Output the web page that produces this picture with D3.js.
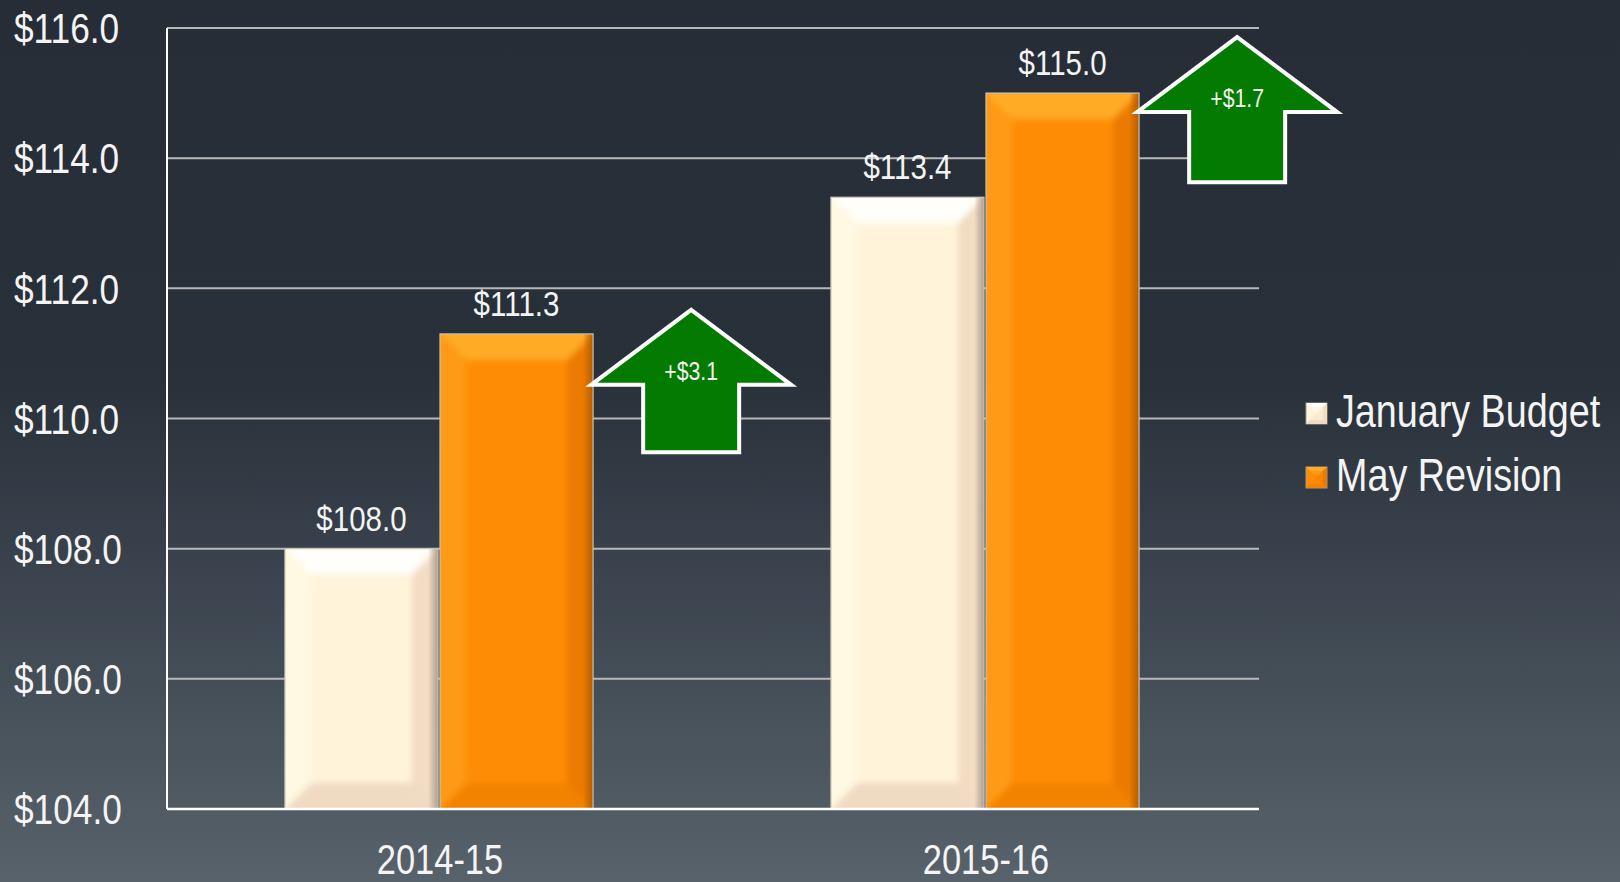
<!DOCTYPE html>
<meta charset="utf-8">
<script src="https://cdn.jsdelivr.net/npm/d3@7"></script>
<style>
  html, body { margin: 0; padding: 0; background: #262d36; }
  text { font-family: "Liberation Sans", Arial, sans-serif; fill: #f4f4f4; }
</style>
<svg id="chart" width="1620" height="882"></svg>
<script>

// data
var years = ["2014-15", "2015-16"];
var seriesNames = ["January Budget", "May Revision"];
var januaryBudget = [108.0, 113.4];
var mayRevision = [111.3, 115.0];
var yTicks = [104, 106, 108, 110, 112, 114, 116];

// green "up" arrows (values in chart units)
var changeLabels = ["+$3.1", "+$1.7"];
var arrowTip = [111.67, 115.86];
var arrowBase = [109.48, 113.63];

var W = 1620, H = 882;
var margin = {top: 28, right: 361, bottom: 73, left: 167};
var narrow = 0.82;   // squeeze Liberation Sans to look like Arial Narrow

var svg = d3.select("#chart");
var defs = svg.append("defs");

// narrow text helper
function label(parent, x, y, str, size, anchor, baseline) {
  return parent.append("text")
    .attr("transform", "translate(" + x + "," + y + ") scale(" + narrow + ",1)")
    .attr("text-anchor", anchor || "start")
    .attr("dominant-baseline", baseline || "auto")
    .attr("font-size", size)
    .text(str);
}

// background
var bg = defs.append("linearGradient").attr("id", "bg").attr("x1", 0).attr("x2", 0).attr("y1", 0).attr("y2", 1);
bg.append("stop").attr("offset", "0").attr("stop-color", "#262d36");
bg.append("stop").attr("offset", "0.42").attr("stop-color", "#28303a");
bg.append("stop").attr("offset", "1").attr("stop-color", "#57626b");
svg.append("rect").attr("width", W).attr("height", H).attr("fill", "url(#bg)");

defs.append("filter").attr("id", "soft").attr("x", "-20%").attr("y", "-20%").attr("width", "140%").attr("height", "140%")
  .append("feGaussianBlur").attr("stdDeviation", 3);

// colours of each series: base, top, left, right, bottom, edge
var palette = [
  {base: "#fff4da", top: "#fffefa", left: "#fff8e2", right: "#f2dcc2", bottom: "#f0dac2", edge: "#a8988a"},
  {base: "#ff8c05", top: "#ffab26", left: "#ff9a12", right: "#ea7a00", bottom: "#f28300", edge: "#b05a00"}
];

palette.forEach(function(p, i) {
  var g = defs.append("linearGradient").attr("id", "edge" + i).attr("x1", 0).attr("x2", 1).attr("y1", 0).attr("y2", 0);
  g.append("stop").attr("offset", "0").attr("stop-color", p.edge).attr("stop-opacity", 0);
  g.append("stop").attr("offset", "1").attr("stop-color", p.edge).attr("stop-opacity", 0.9);
});

var width = W - margin.left - margin.right,
    height = H - margin.top - margin.bottom;

var chart = svg.append("g").attr("transform", "translate(" + margin.left + "," + margin.top + ")");

var x0 = d3.scaleBand().domain(years).range([0, width]).paddingInner(0.432).paddingOuter(0.216);
var x1 = d3.scaleBand().domain(seriesNames).range([0, x0.bandwidth()]).padding(0);
var y = d3.scaleLinear().domain([104, 116]).range([height, 0]);

// gridlines
chart.append("g").selectAll("line").data(yTicks.slice(1)).join("line")
  .attr("x1", 0).attr("x2", width)
  .attr("y1", function(d) { return y(d); }).attr("y2", function(d) { return y(d); })
  .attr("stroke", "#b8b8b8").attr("stroke-width", 2);

// y tick labels
yTicks.forEach(function(d) {
  label(svg, 14, margin.top + y(d), "$" + d.toFixed(1), 43, "start", "central");
});

// bars
var rows = [];
years.forEach(function(yr, i) {
  rows.push({year: yr, s: 0, value: januaryBudget[i], idx: i});
  rows.push({year: yr, s: 1, value: mayRevision[i], idx: i});
});

var b = 26;
rows.forEach(function(d, k) {
  var bx = x0(d.year) + x1(seriesNames[d.s]);
  var bw = x1.bandwidth() - 2;
  var by = y(d.value);
  var bh = height - by;
  var p = palette[d.s];
  defs.append("clipPath").attr("id", "clip" + k).append("rect")
    .attr("x", bx).attr("y", by).attr("width", bw).attr("height", bh);
  var g = chart.append("g").attr("clip-path", "url(#clip" + k + ")");
  g.append("rect").attr("x", bx).attr("y", by).attr("width", bw).attr("height", bh).attr("fill", p.base);
  var bev = g.append("g").attr("filter", "url(#soft)");
  var X = bx, Y = by, R = bx + bw, B = by + bh;
  var polys = [
    {pts: [[X - 10, Y - 10], [R + 10, Y - 10], [R - b, Y + b], [X + b, Y + b]], fill: p.top},
    {pts: [[X - 10, B + 10], [R + 10, B + 10], [R - b, B - b], [X + b, B - b]], fill: p.bottom},
    {pts: [[X - 10, Y - 10], [X + b, Y + b], [X + b, B - b], [X - 10, B + 10]], fill: p.left},
    {pts: [[R + 10, Y - 10], [R - b, Y + b], [R - b, B - b], [R + 10, B + 10]], fill: p.right}
  ];
  bev.selectAll("polygon").data(polys).join("polygon")
    .attr("points", function(q) { return q.pts.map(function(pt) { return pt.join(","); }).join(" "); })
    .attr("fill", function(q) { return q.fill; });
  g.append("rect").attr("x", R - 10).attr("y", Y).attr("width", 10).attr("height", bh).attr("fill", "url(#edge" + d.s + ")");
  chart.append("rect").attr("x", bx).attr("y", by).attr("width", bw).attr("height", bh)
    .attr("fill", "none").attr("stroke", "#c8c2b8").attr("stroke-width", 1.2);

  label(chart, bx + bw / 2, by - 18, "$" + d.value.toFixed(1), 36, "middle");
});

// axis lines
chart.append("line").attr("x1", 0).attr("x2", 0).attr("y1", 0).attr("y2", height).attr("stroke", "#ffffff").attr("stroke-width", 2);
chart.append("line").attr("x1", 0).attr("x2", width).attr("y1", height).attr("y2", height).attr("stroke", "#ffffff").attr("stroke-width", 2.5);

// category labels
years.forEach(function(d) {
  label(chart, x0(d) + x0.bandwidth() / 2, height + 65, d, 42, "middle");
});

// arrows
var headW = 200, shaftW = 96, headH = 75;
years.forEach(function(yr, i) {
  var cx = x0(yr) + x0.bandwidth() / 2 + x0.step() * 0.46;
  var ty = y(arrowTip[i]), wy = ty + headH, by = y(arrowBase[i]);
  var pts = [[cx, ty], [cx + headW / 2, wy], [cx + shaftW / 2, wy], [cx + shaftW / 2, by],
             [cx - shaftW / 2, by], [cx - shaftW / 2, wy], [cx - headW / 2, wy]];
  chart.append("polygon")
    .attr("points", pts.map(function(pt) { return pt.join(","); }).join(" "))
    .attr("fill", "#027b00").attr("stroke", "#ffffff").attr("stroke-width", 4)
    .attr("stroke-linejoin", "miter");
  label(chart, cx, wy - 14, changeLabels[i], 26, "middle", "central");
});

// legend
var legend = svg.append("g").attr("transform", "translate(1306,403)");
seriesNames.forEach(function(name, i) {
  var p = palette[i];
  var g = legend.append("g").attr("transform", "translate(0," + (i * 64) + ")");
  var s = 21;
  g.append("rect").attr("width", s).attr("height", s).attr("fill", p.base).attr("stroke", "#a09a94").attr("stroke-width", 1);
  g.append("polygon").attr("points", "0,0 " + s + ",0 " + (s / 2) + "," + (s / 2)).attr("fill", p.top);
  g.append("polygon").attr("points", "0," + s + " " + s + "," + s + " " + (s / 2) + "," + (s / 2)).attr("fill", p.bottom);
  g.append("polygon").attr("points", s + ",0 " + s + "," + s + " " + (s / 2) + "," + (s / 2)).attr("fill", p.right);
  g.append("rect").attr("x", 4).attr("y", 4).attr("width", s - 8).attr("height", s - 8).attr("fill", p.base).attr("opacity", 0.6);
  label(g, 30, 24, name, 46, "start");
});

</script>
